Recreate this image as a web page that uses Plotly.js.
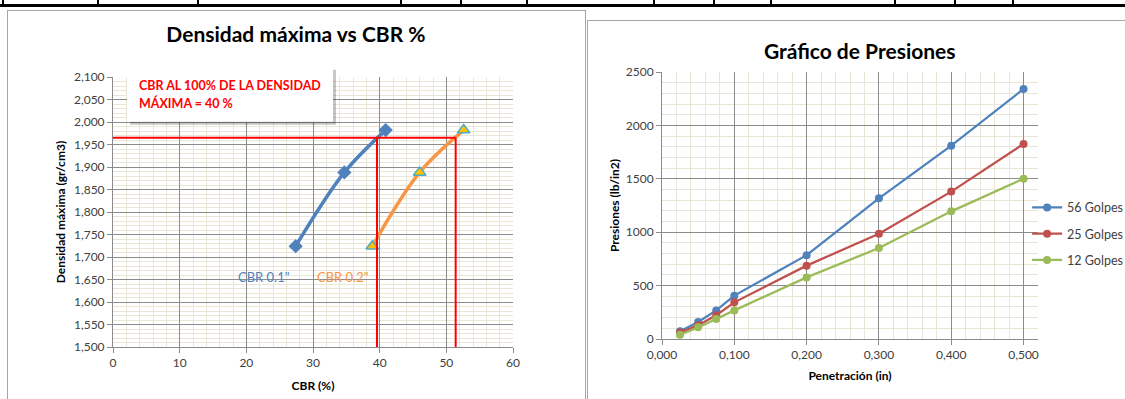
<!DOCTYPE html>
<html><head><meta charset="utf-8">
<script src="https://cdn.plot.ly/plotly-3.0.1.min.js"></script>
<style>
html,body{margin:0;padding:0;background:#fff;width:1125px;height:399px;overflow:hidden}
#hl{position:absolute;left:0;top:4px;width:1125px;height:3px;background:#000}
.vl{position:absolute;top:0;width:2px;height:6px;background:#000}
#c1{position:absolute;left:7px;top:10px;width:577px;height:388px;border:1px solid #a6a6a6;border-bottom:none}
#c2{position:absolute;left:587px;top:20px;width:537px;height:378px;border-left:1px solid #a6a6a6;border-top:1px solid #a6a6a6}
</style></head>
<body>
<div id="hl"></div>
<div id="c1"></div>
<div id="c2"></div>
<script>
// ---- Chart 1 data: Densidad máxima vs CBR ----
const densidades = [1724, 1888, 1982];
const cbr01 = [27.4, 34.7, 40.9];
const cbr02 = [38.9, 46.0, 52.6];
const densMax = 1965;
const cbr01AtMax = 39.6;
const cbr02AtMax = 51.4;
const refLineBottom = 1487;
const label01 = 'CBR 0.1"';
const label02 = 'CBR 0.2"';
const boxLine1 = 'CBR AL 100% DE LA DENSIDAD';
const boxLine2 = 'MÁXIMA = 40 %';

// ---- Chart 2 data: Gráfico de Presiones ----
const penetracion = [0.025, 0.05, 0.075, 0.1, 0.2, 0.3, 0.4, 0.5];
const golpes56 = [72, 159, 268, 406, 785, 1317, 1810, 2341];
const golpes25 = [60, 128, 222, 343, 687, 986, 1380, 1826];
const golpes12 = [40, 109, 187, 268, 577, 852, 1195, 1501];
const seriesNames = ['56 Golpes', '25 Golpes', '12 Golpes'];

// decorative table dividers at the top
const dividers = [2, 97, 197, 400, 460, 526, 653, 713, 770, 894, 954, 1012];
dividers.forEach(x => { const d = document.createElement('div'); d.className = 'vl'; d.style.left = x + 'px'; document.body.appendChild(d); });

const FONT = 'Lato, "Open Sans", sans-serif';
const TXT = '#404040';
const MAJ = '#8c8c8c';
const MIN = '#e9e6d8';

// ---------------- Chart 1 ----------------
const t1 = [
  {x: cbr01, y: densidades, type: 'scatter', mode: 'lines+markers',
   line: {color: '#4f81bd', width: 3.5, shape: 'spline'},
   marker: {symbol: 'diamond', size: 11, color: '#4f81bd'}, showlegend: false},
  {x: cbr02, y: densidades, type: 'scatter', mode: 'lines+markers',
   line: {color: '#f79646', width: 3.5, shape: 'spline'},
   marker: {symbol: 'triangle-up', size: 11, color: '#ffc000', line: {color: '#4bacc6', width: 1.5}}, showlegend: false},
  {x: [0, cbr02AtMax], y: [densMax, densMax], type: 'scatter', mode: 'lines',
   line: {color: '#ff0000', width: 2}, showlegend: false},
  {x: [cbr01AtMax, cbr01AtMax], y: [densMax, refLineBottom], type: 'scatter', mode: 'lines',
   line: {color: '#ff0000', width: 2}, showlegend: false, cliponaxis: false},
  {x: [cbr02AtMax, cbr02AtMax], y: [densMax, refLineBottom], type: 'scatter', mode: 'lines',
   line: {color: '#ff0000', width: 2}, showlegend: false, cliponaxis: false}
];
const l1 = {
  width: 577, height: 388,
  margin: {l: 105, r: 72, t: 66, b: 52, autoexpand: false},
  paper_bgcolor: '#fff', plot_bgcolor: '#fff',
  font: {family: FONT, color: TXT, size: 12},
  title: {text: 'Densidad máxima vs CBR %', font: {family: FONT, size: 21, color: '#000', weight: 700},
          xref: 'container', yref: 'container', x: 0.499, y: 1 - 24/388, xanchor: 'center', yanchor: 'middle'},
  xaxis: {range: [0, 60], dtick: 10, tick0: 0, showline: true, linecolor: MAJ, ticks: 'outside', ticklen: 5, tickcolor: MAJ,
          showgrid: true, gridcolor: MAJ, gridwidth: 1, zeroline: false,
          minor: {dtick: 2, showgrid: true, gridcolor: MIN, ticks: ''},
          tickfont: {size: 12, color: TXT},
          title: {text: 'CBR (%)', font: {size: 12, color: '#000', weight: 700}, standoff: 12}},
  yaxis: {range: [1500, 2100], dtick: 50, tick0: 1500, tickformat: ',d', showline: true, linecolor: MAJ, ticks: 'outside', ticklen: 5, tickcolor: MAJ,
          showgrid: true, gridcolor: MAJ, gridwidth: 1, zeroline: false,
          minor: {dtick: 10, showgrid: true, gridcolor: MIN, ticks: ''},
          tickfont: {size: 12, color: TXT},
          title: {text: 'Densidad máxima (gr/cm3)', font: {size: 12, color: '#000', weight: 700}, standoff: 5}},
  shapes: [
    {type: 'rect', xref: 'paper', yref: 'paper', x0: 0.0425, x1: 0.5575, y0: 0.823, y1: 1.027, fillcolor: 'rgba(0,0,0,0.22)', line: {width: 0}, layer: 'above'},
    {type: 'rect', xref: 'paper', yref: 'paper', x0: 0.035, x1: 0.55, y0: 0.834, y1: 1.038, fillcolor: '#ffffff', line: {width: 0}, layer: 'above'}
  ],
  annotations: [
    {text: boxLine1, xref: 'paper', yref: 'paper', x: 0.06, y: 0.970, xanchor: 'left', yanchor: 'middle', showarrow: false,
     font: {size: 12.5, color: '#ff0000', weight: 700}},
    {text: boxLine2, xref: 'paper', yref: 'paper', x: 0.06, y: 0.904, xanchor: 'left', yanchor: 'middle', showarrow: false,
     font: {size: 12.5, color: '#ff0000', weight: 700}},
    {text: label01, x: 22.7, y: 1655, xref: 'x', yref: 'y', showarrow: false, font: {size: 13, color: '#4f81bd'}},
    {text: label02, x: 34.5, y: 1655, xref: 'x', yref: 'y', showarrow: false, font: {size: 13, color: '#f79646'}}
  ]
};
Plotly.newPlot('c1', t1, l1, {displayModeBar: false, staticPlot: true});

// ---------------- Chart 2 ----------------
const colors2 = ['#4f81bd', '#c0504d', '#9bbb59'];
const ys2 = [golpes56, golpes25, golpes12];
const t2 = ys2.map((ys, i) => ({
  x: penetracion, y: ys, name: seriesNames[i], legendgroup: 'g' + i, type: 'scatter', mode: 'lines+markers',
  line: {color: colors2[i], width: 2.25}, marker: {symbol: 'circle', size: 8, color: colors2[i]}
}));
const l2 = {
  width: 537, height: 378,
  margin: {l: 74, r: 87, t: 51, b: 60, autoexpand: false},
  paper_bgcolor: '#fff', plot_bgcolor: '#fff',
  separators: ',.',
  font: {family: FONT, color: TXT, size: 12},
  title: {text: 'Gráfico de Presiones', font: {family: FONT, size: 21, color: '#000', weight: 700},
          xref: 'container', yref: 'container', x: 0.506, y: 1 - 31/378, xanchor: 'center', yanchor: 'middle'},
  xaxis: {range: [0, 0.52], dtick: 0.1, tick0: 0, tickformat: '.3f', showline: true, linecolor: MAJ, ticks: 'outside', ticklen: 5, tickcolor: MAJ,
          showgrid: true, gridcolor: MAJ, zeroline: false,
          minor: {dtick: 0.02, showgrid: true, gridcolor: MIN, ticks: ''},
          tickfont: {size: 12, color: TXT},
          title: {text: 'Penetración (in)', font: {size: 12, color: '#000', weight: 700}, standoff: 10}},
  yaxis: {range: [0, 2500], dtick: 500, tick0: 0, tickformat: 'd', showline: true, linecolor: MAJ, ticks: 'outside', ticklen: 5, tickcolor: MAJ,
          showgrid: true, gridcolor: MAJ, zeroline: false,
          minor: {dtick: 100, showgrid: true, gridcolor: MIN, ticks: ''},
          tickfont: {size: 12, color: TXT},
          title: {text: 'Presiones (lb/in2)', font: {size: 12, color: '#000', weight: 700}, standoff: 3}},
  showlegend: true,
  legend: {x: 0.971, xanchor: 'left', y: 0.394, yanchor: 'middle', tracegroupgap: 7, bgcolor: 'rgba(0,0,0,0)',
           font: {size: 12.5, color: TXT}, itemwidth: 30}
};
Plotly.newPlot('c2', t2, l2, {displayModeBar: false, staticPlot: true});
</script>
</body></html>
